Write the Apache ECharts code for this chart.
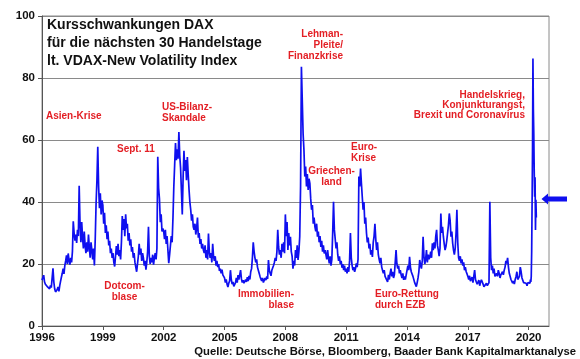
<!DOCTYPE html>
<html><head><meta charset="utf-8">
<script src="https://cdn.jsdelivr.net/npm/echarts@6/dist/echarts.min.js"></script>
<style>html,body{margin:0;padding:0;background:#fff}#c{width:580px;height:359px}</style>
</head><body><div id="c"></div>
<script>
// VDAX-New, semi-monthly readings (24 per year), 2020 weekly (48 per year)
const y1996 = [14.8,15.6,16.4,14.2,13.5,14.0,12.8,13.4,12.6,12.0,13.1,12.4,13.0,18.6,14.2,12.0,11.0,10.4,11.8,12.6,11.2,13.0,14.5,15.8];
const y1997 = [17.0,18.5,16.8,19.5,21.0,22.8,20.0,23.4,21.2,19.8,22.0,20.5,24.0,33.8,30.0,27.5,29.5,26.8,31.0,29.0,45.2,33.0,27.0,33.5];
const y1998 = [28.5,25.0,30.5,26.0,23.5,27.0,24.0,29.5,25.5,22.0,27.0,24.5,21.5,25.0,19.5,28.0,39.5,47.0,57.8,45.0,38.0,42.8,36.0,40.5];
const y1999 = [39.0,33.0,36.5,30.0,32.5,28.0,30.5,26.0,27.5,23.5,25.0,22.0,23.5,20.5,19.2,22.5,25.8,23.0,26.5,22.5,24.5,21.5,27.0,35.5];
const y2000 = [31.0,34.5,29.0,36.0,31.5,33.0,27.5,30.0,26.0,28.0,24.0,25.5,22.0,23.5,20.5,19.0,17.5,20.0,22.5,26.5,23.0,25.0,21.0,23.5];
const y2001 = [22.0,19.5,21.0,18.2,20.5,24.0,32.0,22.5,20.0,22.0,20.5,23.0,19.8,22.0,23.5,21.5,25.0,54.6,44.5,41.0,33.5,36.0,30.5,31.5];
const y2002 = [30.5,28.0,31.0,26.5,29.0,24.5,20.3,23.0,26.0,29.0,27.0,35.0,45.0,52.0,59.0,53.5,57.0,54.0,62.6,55.0,51.0,43.5,36.0,48.0];
const y2003 = [56.5,50.0,53.5,47.0,54.5,49.0,44.0,40.0,37.5,34.0,36.0,32.0,31.0,33.0,29.5,31.5,35.0,28.5,30.0,26.5,28.0,25.0,26.5,24.5];
const y2004 = [23.5,26.0,22.0,24.5,21.5,29.8,24.0,22.0,23.5,20.5,26.5,22.5,21.0,22.5,19.5,21.0,19.0,20.0,17.8,18.5,17.0,18.2,16.5,17.0];
const y2005 = [15.5,14.0,15.0,13.5,12.6,13.8,14.5,18.0,15.0,13.5,14.2,12.8,13.2,14.0,15.5,14.0,16.4,15.0,14.5,18.0,15.2,14.0,14.8,13.8];
const y2006 = [13.8,15.0,14.2,15.8,14.5,16.2,15.0,17.5,18.5,22.0,27.0,24.0,22.0,20.5,21.5,19.0,18.0,17.0,16.0,15.2,14.5,15.5,14.0,14.8];
const y2007 = [15.5,14.8,16.0,15.2,21.3,18.0,17.0,16.2,18.0,17.5,19.5,20.5,22.0,21.0,24.0,31.0,25.5,23.0,24.5,22.0,26.5,24.0,27.0,23.5];
const y2008 = [36.0,29.0,33.5,24.5,30.0,26.0,28.8,24.0,22.5,18.5,21.0,19.5,24.5,22.0,26.0,21.3,24.0,28.8,45.0,83.6,72.9,62.0,56.8,48.2];
const y2009 = [51.4,45.0,49.0,43.9,47.5,46.0,41.0,37.5,39.0,33.0,35.0,32.0,30.5,33.0,28.8,30.5,27.0,29.0,25.5,27.5,24.0,26.0,23.4,24.5];
const y2010 = [23.0,21.5,24.5,22.0,20.2,22.5,19.5,21.5,30.0,40.1,31.0,28.0,25.0,27.0,23.0,21.0,22.5,20.0,21.0,18.8,20.0,18.0,19.5,17.5];
const y2011 = [18.5,17.0,19.0,17.5,21.0,30.0,22.0,19.5,18.0,19.0,17.5,18.5,20.2,19.0,21.5,48.2,45.0,50.8,46.0,41.7,37.5,40.0,33.0,35.0];
const y2012 = [30.0,27.0,28.5,25.0,26.5,23.0,24.5,22.3,27.0,29.0,33.0,28.0,24.5,27.0,23.0,21.5,20.2,22.0,19.0,18.0,17.0,18.0,16.0,15.5];
const y2013 = [15.5,14.2,16.5,15.0,17.0,18.5,16.0,17.5,15.5,16.5,17.0,24.5,20.0,18.5,19.5,17.0,18.0,16.5,15.5,17.0,14.9,16.0,15.0,16.5];
const y2014 = [17.0,19.5,18.0,22.3,19.0,17.5,18.0,16.0,15.5,14.0,13.5,12.7,14.0,15.5,17.5,21.3,19.5,18.5,21.0,28.8,22.5,20.0,21.5,24.5];
const y2015 = [20.5,23.0,21.5,22.3,24.0,22.0,26.7,24.5,27.0,25.0,29.0,31.0,26.0,24.5,22.5,25.0,36.3,30.0,32.0,28.8,26.5,24.5,25.6,27.5];
const y2016 = [28.0,32.5,36.3,34.0,28.8,30.5,26.7,24.5,23.0,25.0,30.0,37.5,27.0,22.0,21.0,22.5,20.2,21.5,19.5,20.5,18.0,19.0,17.5,16.8];
const y2017 = [16.0,15.0,16.2,14.5,14.9,15.8,14.0,16.0,18.0,15.0,14.2,13.5,13.8,14.8,13.0,14.2,14.9,15.5,13.5,12.7,13.2,12.5,13.8,13.0];
const y2018 = [13.5,14.0,40.1,22.0,18.0,19.5,17.0,18.5,16.0,15.5,17.0,16.0,18.0,17.0,15.5,16.5,16.0,17.5,16.5,18.0,19.0,21.0,20.2,22.0];
const y2019 = [19.0,17.0,16.0,15.0,14.5,13.8,14.5,13.5,15.0,16.0,17.5,15.0,14.5,16.0,19.0,17.5,15.5,14.9,14.0,13.5,14.2,13.8,13.0,14.0];
const y2020 = [14.0,13.5,14.5,13.8,15.0,14.2,16.0,24.0,40.0,57.0,86.3,70.0,62.0,50.0,41.7,48.0,31.0,40.7,35.0];

const xTickLabels = [1996,1999,2002,2005,2008,2011,2014,2017,2020];
const yTickLabels = [0,20,40,60,80,100];

const years = [
  [1996,y1996,24],[1997,y1997,24],[1998,y1998,24],[1999,y1999,24],[2000,y2000,24],
  [2001,y2001,24],[2002,y2002,24],[2003,y2003,24],[2004,y2004,24],[2005,y2005,24],
  [2006,y2006,24],[2007,y2007,24],[2008,y2008,24],[2009,y2009,24],[2010,y2010,24],
  [2011,y2011,24],[2012,y2012,24],[2013,y2013,24],[2014,y2014,24],[2015,y2015,24],
  [2016,y2016,24],[2017,y2017,24],[2018,y2018,24],[2019,y2019,24],[2020,y2020,48]
];
const seriesData = [];
years.forEach(([yr, arr, per]) => arr.forEach((v, k) => seriesData.push([yr + k / per, v])));

const FONT = 'Arial, "Liberation Sans", Helvetica, sans-serif';
const RED = '#e31e24';
function note(text, x, y, align, lh) {
  return {type:'text', z:100, style:{text:text, x:x, y:y, fill:RED, fontSize:10, fontWeight:'bold',
    fontFamily:FONT, textAlign:align, textVerticalAlign:'top', lineHeight:lh || 11}};
}

const chart = echarts.init(document.getElementById('c'), null, {renderer:'canvas'});
chart.setOption({
  animation:false,
  backgroundColor:'#ffffff',
  grid:{left:42, right:31, top:16, bottom:33, show:true, borderColor:'#8a8a8a', borderWidth:1, containLabel:false},
  xAxis:{type:'value', min:1996, max:2021, interval:3,
    axisLine:{show:true, lineStyle:{color:'#555', width:1}},
    axisTick:{show:true, length:4, lineStyle:{color:'#555'}, customValues:xTickLabels},
    axisLabel:{customValues:xTickLabels, formatter:v=>String(v), color:'#111', fontWeight:'bold', fontSize:11.5, fontFamily:FONT, margin:6},
    splitLine:{show:false}},
  yAxis:{type:'value', min:0, max:100, interval:20,
    axisLine:{show:true, lineStyle:{color:'#555', width:1}},
    axisTick:{show:true, length:4, lineStyle:{color:'#555'}},
    axisLabel:{color:'#111', fontWeight:'bold', fontSize:11.5, fontFamily:FONT, margin:7,
      formatter:v=>yTickLabels.includes(v)?String(v):''},
    splitLine:{show:true, lineStyle:{color:'#8a8a8a', width:1}}},
  series:[{type:'line', data:seriesData, symbol:'none', showSymbol:false, sampling:null,
    lineStyle:{color:'#0f0fef', width:1.7}, z:5}],
  graphic:[
    {type:'text', z:100, style:{text:'Kursschwankungen DAX\nfür die nächsten 30 Handelstage\nlt. VDAX-New Volatility Index',
      x:47, y:16, fill:'#111', fontSize:14, fontWeight:'bold', fontFamily:FONT, textAlign:'left', textVerticalAlign:'top', lineHeight:18}},
    note('Asien-Krise', 46, 110.5, 'left'),
    note('US-Bilanz-\nSkandale', 162, 101.5, 'left'),
    note('Sept. 11', 117, 143.5, 'left'),
    note('Dotcom-\nblase', 124.5, 280.5, 'center'),
    note('Immobilien-\nblase', 294, 288.5, 'right'),
    note('Lehman-\nPleite/\nFinanzkrise', 343, 28.5, 'right'),
    note('Griechen-\nland', 331.5, 165.5, 'center'),
    note('Euro-\nKrise', 351, 141.5, 'left'),
    note('Euro-Rettung\ndurch EZB', 375, 288.5, 'left'),
    note('Handelskrieg,\nKonjunkturangst,\nBrexit und Coronavirus', 525, 90, 'right', 10),
    {type:'polygon', z:100, shape:{points:[[541.5,199],[548,193.5],[548,196.5],[567,196.5],[567,201.5],[548,201.5],[548,204.5]]},
      style:{fill:'#0f0fef'}},
    {type:'text', z:100, style:{text:'Quelle: Deutsche Börse, Bloomberg, Baader Bank Kapitalmarktanalyse',
      x:576, y:352, fill:'#111', fontSize:11.3, fontWeight:'bold', fontFamily:FONT, textAlign:'right', textVerticalAlign:'middle'}}
  ]
});
</script></body></html>
